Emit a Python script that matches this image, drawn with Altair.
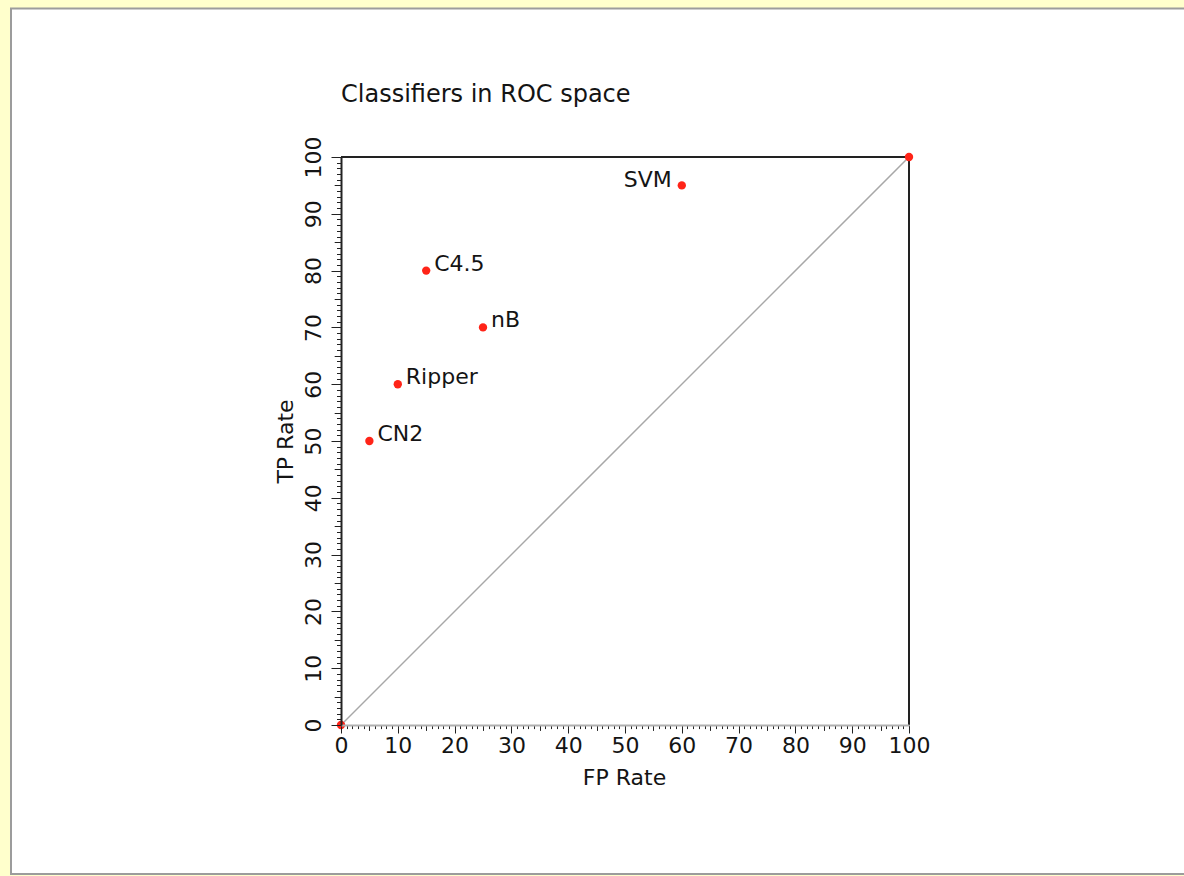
import altair as alt
import pandas as pd

# ---- data ----
names = ["", "CN2", "Ripper", "C4.5", "nB", "SVM", ""]
fp_rate = [0, 5, 10, 15, 25, 60, 100]
tp_rate = [0, 50, 60, 80, 70, 95, 100]
label_side = ["none", "right", "right", "right", "right", "left", "none"]

diag_fp = [0, 100]
diag_tp = [0, 100]

tick_values = list(range(0, 101))

title_text = "Classifiers in ROC space"
x_title = "FP Rate"
y_title = "TP Rate"

FONT = "DejaVu Sans"
TXT = "#141414"

pts = pd.DataFrame({"name": names, "fp": fp_rate, "tp": tp_rate, "side": label_side})
diag = pd.DataFrame({"fp": diag_fp, "tp": diag_tp})

W = 568
H = 568


def minor_cond(big):
    return {
        "condition": [
            {"test": "datum.value % 10 === 0", "value": big},
            {"test": "datum.value % 5 === 0", "value": round(big * 0.68, 1)},
        ],
        "value": round(big * 0.45, 1),
    }


x_axis = alt.Axis(
    values=tick_values,
    labelExpr="datum.value % 10 === 0 ? datum.label : ''",
    labelOverlap=False,
    labelFlush=False,
    tickSize=minor_cond(8),
    tickColor="#222222",
    tickWidth=1,
    domainColor="#b0b0b0",
    domainWidth=2,
    labelFont=FONT,
    labelFontSize=22,
    labelColor=TXT,
    labelPadding=2,
    title=x_title,
    titleFont=FONT,
    titleFontSize=22,
    titleFontWeight="normal",
    titleColor=TXT,
    titleBaseline="middle",
    titleAlign="center",
    titleX=283,
    titleY=52,
    grid=False,
    zindex=1,
)

y_axis = alt.Axis(
    values=tick_values,
    labelExpr="datum.value % 10 === 0 ? datum.label : ''",
    labelOverlap=False,
    labelFlush=False,
    tickSize=minor_cond(10),
    tickColor="#222222",
    tickWidth=1,
    domainColor="#222222",
    domainWidth=2,
    labelFont=FONT,
    labelFontSize=22,
    labelColor=TXT,
    labelAngle=270,
    labelAlign="center",
    labelBaseline="alphabetic",
    labelPadding=11,
    title=y_title,
    titleFont=FONT,
    titleFontSize=22,
    titleFontWeight="normal",
    titleColor=TXT,
    titleAngle=270,
    titleBaseline="middle",
    titleAlign="center",
    titleX=-56,
    titleY=284,
    grid=False,
    zindex=1,
)

xs = alt.Scale(domain=[0, 100], nice=False, zero=False)
ys = alt.Scale(domain=[0, 100], nice=False, zero=False)

X = alt.X("fp:Q", scale=xs, axis=x_axis)
Y = alt.Y("tp:Q", scale=ys, axis=y_axis)

one = alt.Data(values=[{}])

frame = alt.Chart(one).mark_rect(
    fill="white", stroke="#9c9c9c", strokeWidth=2
).encode(
    x=alt.value(-330), x2=alt.value(900), y=alt.value(-148.5), y2=alt.value(717)
)

top_rule = alt.Chart(one).mark_rule(color="#222222", strokeWidth=2).encode(
    x=alt.value(0), x2=alt.value(W), y=alt.value(0)
)
right_rule = alt.Chart(one).mark_rule(color="#222222", strokeWidth=2).encode(
    x=alt.value(W), y=alt.value(0), y2=alt.value(H)
)

title_mark = alt.Chart(one).mark_text(
    text=title_text, align="left", baseline="middle", font=FONT, fontSize=24, color=TXT
).encode(x=alt.value(0), y=alt.value(-62))

line = alt.Chart(diag).mark_line(color="#a8a8a8", strokeWidth=1.5).encode(x=X, y=Y)

points = alt.Chart(pts).mark_circle(color="#ff2418", size=70, opacity=1).encode(x=X, y=Y)

labels_right = alt.Chart(pts).transform_filter(alt.datum.side == "right").mark_text(
    align="left", baseline="middle", dx=8, dy=-7, font=FONT, fontSize=22, color=TXT
).encode(x=X, y=Y, text="name:N")

labels_left = alt.Chart(pts).transform_filter(alt.datum.side == "left").mark_text(
    align="right", baseline="middle", dx=-10, dy=-5, font=FONT, fontSize=22, color=TXT
).encode(x=X, y=Y, text="name:N")

chart = alt.layer(
    frame, line, top_rule, right_rule, points, labels_right, labels_left, title_mark
).properties(
    width=W,
    height=H,
    background="#FFFFCC",
    padding={"left": 341, "top": 157, "right": 275, "bottom": 151},
    autosize=alt.AutoSizeParams(type="none"),
).configure_view(stroke=None)

chart.save("out.html", embed_options={"renderer": "svg", "actions": False})
